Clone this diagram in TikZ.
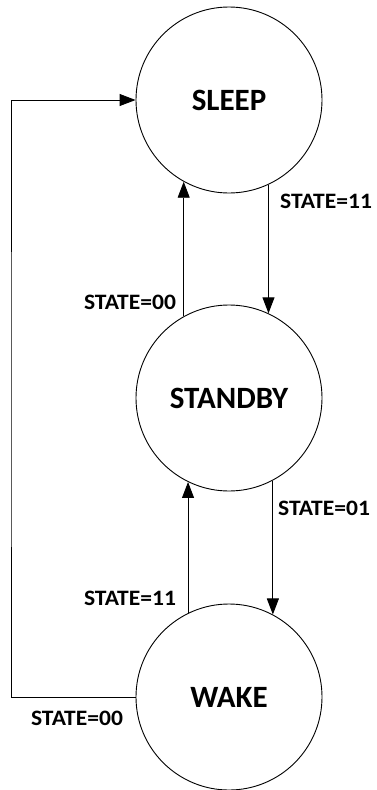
\documentclass[tikz,border=0pt]{standalone}
\usepackage{fontspec}
\usepackage{graphicx}
\setmainfont{Carlito}
\usetikzlibrary{arrows.meta}
\tikzset{
  state/.style={draw, circle, line width=0.9pt, minimum size=186pt, inner sep=0pt,
    font=\fontsize{31}{36}\selectfont\bfseries},
  lbl/.style={inner sep=0pt, font=\fontsize{22}{26}\selectfont\bfseries},
  conn/.style={line width=0.9pt, -{Triangle[length=16pt,width=12pt]}}
}
\newcommand{\wlbl}[1]{\scalebox{1.07}[1]{#1}}
\begin{document}
\begin{tikzpicture}[x=1pt,y=-1pt]
\useasboundingbox (0,0) rectangle (376,790);
\node[state] (sleep) at (229,100) {SLEEP};
\node[state] (standby) at (229,398) {STANDBY};
\node[state] (wake) at (229,697) {WAKE};
\coordinate (lft) at (11,400);
% connectors
\draw[conn] (sleep.-65.21) -- (standby.65.21);
\draw[conn] (standby.119.65) -- (sleep.-119.65);
\draw[conn] (standby.-62.46) -- (wake.62.46);
\draw[conn] (wake.116.16) -- (standby.-116.16);
\draw[conn] (wake.west) -| (lft) |- (sleep.west);
% labels
\node[lbl] (l1) at (326,201) {\wlbl{STATE=11}};
\node[lbl] (l2) at (130,302) {\wlbl{STATE=00}};
\node[lbl] (l3) at (324,508) {\wlbl{STATE=01}};
\node[lbl] (l4) at (130,598) {\wlbl{STATE=11}};
\node[lbl] (l5) at (77,718) {\wlbl{STATE=00}};
\end{tikzpicture}
\end{document}
